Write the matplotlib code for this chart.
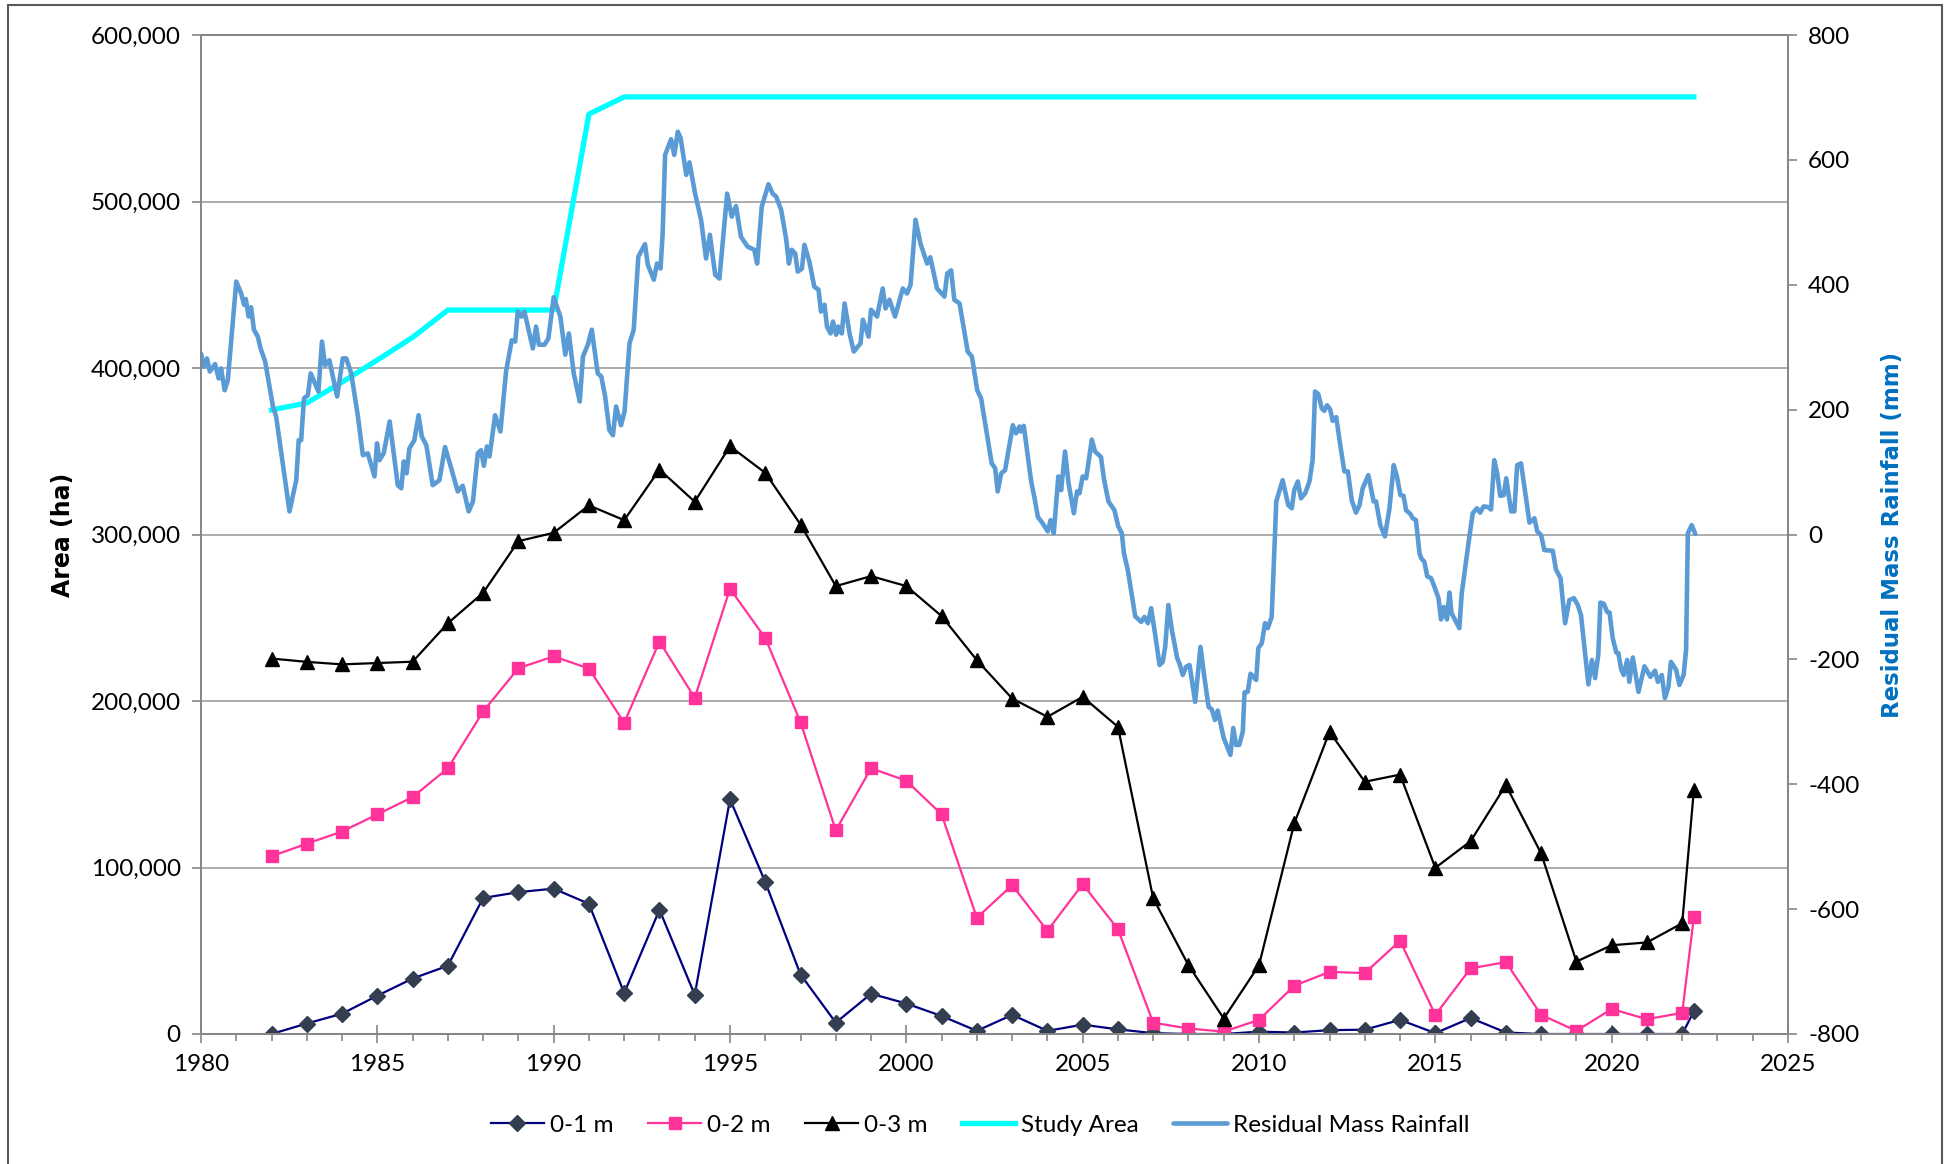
import matplotlib
matplotlib.use("Agg")
import matplotlib.pyplot as plt
from matplotlib.patches import Rectangle
from matplotlib.ticker import FuncFormatter, MultipleLocator

plt.rcParams['font.family'] = ['Lato', 'DejaVu Sans']
plt.rcParams['axes.unicode_minus'] = False

# survey years (last survey in early 2022)
years = list(range(1982, 2023)) + [2022.33]

area_0_1 = [0, 6300, 12200, 23000, 33300, 41000, 81700, 85200, 87300, 78200,
            24600, 74600, 23500, 141000, 91300, 35700, 6800, 24200, 18300, 10800,
            1900, 11500, 1900, 5600, 2800, 500, 0, 0, 1400, 900,
            2300, 2600, 8500, 500, 9600, 900, 0, 0, 0, 0,
            0, 13600]
area_0_2 = [106800, 114300, 121600, 131900, 142300, 159600, 193700, 219700, 226800, 219500,
            186900, 235700, 201900, 267400, 237800, 187300, 122300, 159600, 152100, 131900,
            69800, 89400, 62000, 90000, 63000, 6800, 3300, 1400, 8500, 29000,
            37300, 36600, 56000, 11500, 39400, 43200, 11500, 1900, 15000, 8900,
            12700, 70200]
area_0_3 = [225500, 223500, 222000, 222800, 223600, 246700, 265000, 296000, 301000, 317500,
            308600, 339000, 319700, 353000, 337000, 306000, 269000, 275000, 269000, 251000,
            224500, 201500, 190500, 202500, 184500, 81500, 41300, 9300, 41300, 126500,
            181500, 151500, 155800, 99800, 115800, 149500, 108500, 43500, 53300, 55000,
            66500, 146500]
study_area = [374800, 379000, 391500, 404800, 418400, 434800, 434800, 434800, 434800, 552500,
              562800, 562800, 562800, 562800, 562800, 562800, 562800, 562800, 562800, 562800,
              562800, 562800, 562800, 562800, 562800, 562800, 562800, 562800, 562800, 562800,
              562800, 562800, 562800, 562800, 562800, 562800, 562800, 562800, 562800, 562800,
              562800, 562800]

# residual mass rainfall (mm), vertices
rm_year = [1980.00, 1980.08, 1980.17, 1980.25, 1980.40, 1980.50, 1980.57, 1980.67, 1980.76, 1981.00,
           1981.14, 1981.22, 1981.27, 1981.35, 1981.42, 1981.50, 1981.61, 1981.69, 1981.82, 1982.04,
           1982.13, 1982.51, 1982.70, 1982.77, 1982.84, 1982.92, 1983.03, 1983.11, 1983.33, 1983.43,
           1983.52, 1983.64, 1983.86, 1984.02, 1984.12, 1984.26, 1984.45, 1984.59, 1984.73, 1984.92,
           1984.99, 1985.06, 1985.18, 1985.35, 1985.58, 1985.68, 1985.75, 1985.83, 1985.91, 1986.05,
           1986.17, 1986.26, 1986.39, 1986.57, 1986.76, 1986.92, 1987.08, 1987.28, 1987.42, 1987.59,
           1987.71, 1987.85, 1987.94, 1988.02, 1988.11, 1988.18, 1988.34, 1988.49, 1988.65, 1988.81,
           1988.91, 1988.98, 1989.08, 1989.17, 1989.41, 1989.50, 1989.58, 1989.74, 1989.85, 1990.00,
           1990.19, 1990.33, 1990.43, 1990.57, 1990.74, 1990.83, 1990.97, 1991.08, 1991.25, 1991.35,
           1991.46, 1991.58, 1991.68, 1991.77, 1991.91, 1992.01, 1992.15, 1992.27, 1992.40, 1992.59,
           1992.67, 1992.84, 1992.93, 1993.03, 1993.09, 1993.16, 1993.33, 1993.42, 1993.52, 1993.60,
           1993.76, 1993.85, 1994.01, 1994.18, 1994.32, 1994.43, 1994.58, 1994.70, 1994.92, 1995.05,
           1995.17, 1995.31, 1995.50, 1995.69, 1995.77, 1995.90, 1996.09, 1996.21, 1996.31, 1996.45,
           1996.59, 1996.67, 1996.75, 1996.85, 1996.92, 1997.04, 1997.11, 1997.25, 1997.39, 1997.51,
           1997.58, 1997.68, 1997.75, 1997.85, 1997.92, 1998.01, 1998.07, 1998.17, 1998.25, 1998.39,
           1998.51, 1998.70, 1998.77, 1998.93, 1999.00, 1999.17, 1999.33, 1999.41, 1999.52, 1999.68,
           1999.90, 2000.02, 2000.12, 2000.26, 2000.40, 2000.59, 2000.68, 2000.87, 2001.08, 2001.16,
           2001.27, 2001.36, 2001.51, 2001.74, 2001.86, 2002.01, 2002.12, 2002.42, 2002.52, 2002.59,
           2002.69, 2002.80, 2003.02, 2003.11, 2003.21, 2003.25, 2003.33, 2003.54, 2003.63, 2003.73,
           2003.84, 2004.01, 2004.09, 2004.18, 2004.31, 2004.39, 2004.50, 2004.60, 2004.75, 2004.84,
           2004.91, 2005.00, 2005.10, 2005.26, 2005.35, 2005.52, 2005.60, 2005.73, 2005.90, 2006.01,
           2006.11, 2006.17, 2006.28, 2006.37, 2006.49, 2006.66, 2006.75, 2006.85, 2006.94, 2007.05,
           2007.18, 2007.27, 2007.34, 2007.43, 2007.53, 2007.68, 2007.74, 2007.84, 2007.93, 2008.03,
           2008.19, 2008.34, 2008.45, 2008.57, 2008.66, 2008.75, 2008.83, 2009.00, 2009.19, 2009.27,
           2009.35, 2009.44, 2009.54, 2009.59, 2009.68, 2009.76, 2009.92, 2009.98, 2010.08, 2010.17,
           2010.25, 2010.36, 2010.49, 2010.67, 2010.83, 2010.93, 2011.00, 2011.10, 2011.19, 2011.31,
           2011.43, 2011.52, 2011.59, 2011.68, 2011.78, 2011.85, 2011.93, 2012.02, 2012.09, 2012.19,
           2012.31, 2012.42, 2012.52, 2012.63, 2012.75, 2012.85, 2012.94, 2013.10, 2013.25, 2013.32,
           2013.44, 2013.57, 2013.70, 2013.82, 2013.91, 2014.01, 2014.10, 2014.17, 2014.29, 2014.36,
           2014.45, 2014.55, 2014.60, 2014.69, 2014.77, 2014.88, 2014.99, 2015.09, 2015.16, 2015.24,
           2015.33, 2015.40, 2015.46, 2015.68, 2015.75, 2015.94, 2016.06, 2016.18, 2016.27, 2016.37,
           2016.49, 2016.58, 2016.67, 2016.75, 2016.84, 2016.94, 2017.01, 2017.15, 2017.24, 2017.32,
           2017.43, 2017.67, 2017.81, 2017.89, 2018.00, 2018.09, 2018.33, 2018.42, 2018.55, 2018.68,
           2018.80, 2018.93, 2019.04, 2019.13, 2019.34, 2019.44, 2019.53, 2019.62, 2019.68, 2019.78,
           2019.87, 2019.94, 2020.03, 2020.13, 2020.19, 2020.27, 2020.34, 2020.44, 2020.50, 2020.60,
           2020.76, 2020.93, 2021.10, 2021.23, 2021.31, 2021.42, 2021.51, 2021.61, 2021.68, 2021.83,
           2021.92, 2022.04, 2022.11, 2022.16, 2022.27, 2022.37]
rm_mm = [290, 269, 282, 261, 273, 250, 266, 231, 247, 405,
         386, 368, 377, 349, 364, 328, 317, 298, 277, 205,
         189, 37, 87, 151, 151, 218, 223, 258, 229, 309,
         271, 279, 221, 282, 282, 258, 189, 127, 130, 93,
         146, 119, 130, 181, 79, 74, 117, 98, 138, 151,
         191, 157, 143, 79, 87, 140, 109, 69, 78, 37,
         53, 130, 135, 110, 141, 125, 191, 165, 261, 311,
         309, 357, 349, 357, 298, 333, 304, 304, 314, 380,
         349, 288, 322, 258, 213, 285, 304, 328, 258, 253,
         221, 167, 159, 205, 175, 197, 306, 328, 445, 465,
         432, 408, 434, 426, 482, 608, 633, 608, 645, 635,
         576, 596, 546, 504, 442, 480, 416, 410, 546, 509,
         526, 477, 461, 456, 434, 525, 561, 546, 541, 520,
         474, 434, 456, 450, 421, 426, 464, 437, 397, 392,
         357, 368, 333, 322, 341, 320, 333, 322, 370, 322,
         293, 306, 344, 317, 360, 349, 394, 362, 376, 349,
         394, 386, 400, 504, 466, 434, 444, 394, 381, 418,
         423, 376, 370, 293, 285, 231, 218, 114, 106, 69,
         98, 103, 175, 162, 173, 165, 174, 85, 60, 28,
         20, 5, 23, 2, 93, 71, 133, 82, 34, 69,
         66, 93, 90, 152, 133, 124, 90, 53, 39, 13,
         2, -30, -57, -89, -131, -140, -132, -142, -118, -158,
         -209, -204, -180, -113, -153, -198, -206, -225, -212, -209,
         -268, -180, -228, -276, -280, -297, -282, -326, -353, -310,
         -337, -337, -316, -253, -252, -223, -233, -182, -174, -142,
         -150, -132, 53, 87, 47, 42, 71, 85, 58, 66,
         85, 119, 229, 225, 202, 198, 207, 200, 182, 188,
         141, 101, 101, 55, 35, 47, 74, 95, 53, 53,
         15, -3, 42, 111, 93, 63, 62, 39, 33, 26,
         23, -30, -38, -44, -67, -70, -86, -102, -136, -116,
         -136, -93, -126, -150, -94, -14, 34, 42, 35, 45,
         44, 40, 119, 99, 62, 63, 90, 37, 37, 111,
         114, 19, 26, 5, -1, -25, -26, -56, -70, -142,
         -105, -102, -113, -129, -240, -201, -230, -193, -109, -111,
         -124, -125, -166, -189, -190, -216, -225, -201, -236, -197,
         -252, -211, -228, -218, -236, -225, -262, -244, -204, -217,
         -241, -225, -185, 2, 15, 1]

W, H = 1946, 1164
fig = plt.figure(figsize=(W / 100, H / 100), dpi=100)
ax = fig.add_axes([201 / W, 1 - 1034 / H, (1788 - 201) / W, (1034 - 35) / H])
ax2 = ax.twinx()

axis_grey = '#868686'

l1, = ax.plot(years, area_0_1, color='#000080', lw=1.6, marker='D', ms=8.5,
              mfc='#333F50', mec='#333F50', label='0-1 m')
l2, = ax.plot(years, area_0_2, color='#FF3399', lw=1.6, marker='s', ms=8,
              mfc='#FF3399', mec='#FF3399', label='0-2 m')
l3, = ax.plot(years, area_0_3, color='black', lw=1.6, marker='^', ms=10.5,
              label='0-3 m')
l4, = ax.plot(years, study_area, color='#00FFFF', lw=3.8, label='Study Area',
              solid_joinstyle='round')
l5, = ax2.plot(rm_year, rm_mm, color='#5B9BD5', lw=3.3, label='Residual Mass Rainfall',
               solid_joinstyle='round', solid_capstyle='round')

ax.set_xlim(1980, 2025)
ax.set_ylim(0, 600000)
ax2.set_ylim(-800, 800)
ax.xaxis.set_major_locator(MultipleLocator(5))
ax.xaxis.set_minor_locator(MultipleLocator(1))
ax.yaxis.set_major_locator(MultipleLocator(100000))
ax2.yaxis.set_major_locator(MultipleLocator(200))
ax.yaxis.set_major_formatter(FuncFormatter(lambda v, p: f'{int(v):,}'))
ax2.yaxis.set_major_formatter(FuncFormatter(lambda v, p: f'{int(v)}'))

ax.grid(axis='y', color='#A6A6A6', lw=1.3)
ax.set_axisbelow(True)

for a in (ax, ax2):
    for s in a.spines.values():
        s.set_color(axis_grey)
        s.set_linewidth(1.3)

ax.tick_params(axis='x', which='major', direction='inout', length=13, width=1.2,
               color=axis_grey, pad=8, labelsize=17.5)
ax.tick_params(axis='x', which='minor', direction='out', length=5, width=1.2,
               color=axis_grey)
ax.tick_params(axis='y', direction='out', length=6.5, width=1.2, color=axis_grey,
               pad=8, labelsize=17.5)
ax2.tick_params(axis='y', direction='out', length=6.5, width=1.2, color=axis_grey,
                pad=8, labelsize=17.5)

fig.text(63 / W, 1 - 534.5 / H, 'Area (ha)', rotation=90, ha='center', va='center',
         fontsize=17, fontweight='bold', family='DejaVu Sans')
fig.text(1893 / W, 1 - 534.5 / H, 'Residual Mass Rainfall (mm)', rotation=90,
         ha='center', va='center', fontsize=16.5, fontweight='bold',
         family='DejaVu Sans', color='#0070C0')

fig.legend([l1, l2, l3, l4, l5], [h.get_label() for h in (l1, l2, l3, l4, l5)],
           loc='center', bbox_to_anchor=(980 / W, 1 - 1125 / H), ncol=5,
           frameon=False, fontsize=17.5, handlelength=2.2, handletextpad=0.25,
           columnspacing=1.4)

# chart border
fig.patches.append(Rectangle((8 / W, -0.02), (1942 - 8) / W, 1.02 - 4.6 / H,
                             transform=fig.transFigure, fill=False,
                             ec='#595959', lw=1.5))

fig.savefig('out.png', dpi=100)
